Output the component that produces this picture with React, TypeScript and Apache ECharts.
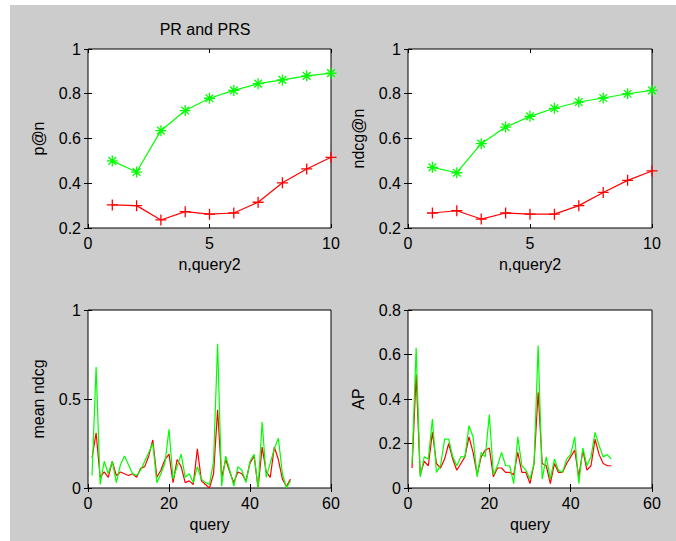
import React, { useEffect, useRef } from "react";
import * as echarts from "echarts";

const nValues = [1, 2, 3, 4, 5, 6, 7, 8, 9, 10];
const pAtNGreen = [0.5, 0.45, 0.635, 0.725, 0.78, 0.815, 0.845, 0.862, 0.88, 0.892];
const pAtNRed = [0.303, 0.3, 0.236, 0.273, 0.262, 0.267, 0.315, 0.402, 0.464, 0.516];
const ndcgAtNGreen = [0.471, 0.447, 0.577, 0.651, 0.699, 0.735, 0.763, 0.781, 0.8, 0.815];
const ndcgAtNRed = [0.267, 0.277, 0.24, 0.267, 0.262, 0.262, 0.3, 0.359, 0.413, 0.455];

const queries = [
  1, 2, 3, 4, 5, 6, 7, 8, 9, 10, 11, 12, 13, 14, 15, 16, 17, 18, 19, 20, 21, 22, 23, 24, 25,
  26, 27, 28, 29, 30, 31, 32, 33, 34, 35, 36, 37, 38, 39, 40, 41, 42, 43, 44, 45, 46, 47, 48, 49, 50,
];
const meanNdcgGreen = [
  0.07, 0.68, 0.02, 0.15, 0.08, 0.15, 0.03, 0.13, 0.18, 0.13, 0.08, 0.07, 0.1, 0.15, 0.2, 0.25, 0.03,
  0.08, 0.14, 0.33, 0.05, 0.12, 0.19, 0.06, 0.08, 0.03, 0.12, 0.05, 0.03, 0.02, 0.15, 0.81, 0.01, 0.18,
  0.1, 0.01, 0.12, 0.1, 0.03, 0.15, 0.19, 0.0, 0.37, 0.06, 0.14, 0.22, 0.28, 0.08, 0.0, 0.04,
];
const meanNdcgRed = [
  0.17, 0.31, 0.06, 0.09, 0.06, 0.15, 0.07, 0.09, 0.08, 0.07, 0.08, 0.06, 0.11, 0.12, 0.18, 0.27, 0.06,
  0.1, 0.16, 0.19, 0.03, 0.16, 0.12, 0.03, 0.04, 0.02, 0.22, 0.04, 0.02, 0.0, 0.08, 0.44, 0.06, 0.16,
  0.09, 0.03, 0.09, 0.08, 0.04, 0.14, 0.18, 0.0, 0.23, 0.09, 0.06, 0.23, 0.16, 0.05, 0.01, 0.05,
];
const apGreen = [
  0.11, 0.63, 0.05, 0.14, 0.13, 0.31, 0.07, 0.1, 0.22, 0.22, 0.14, 0.1, 0.14, 0.14, 0.28, 0.23, 0.05,
  0.16, 0.14, 0.33, 0.06, 0.1, 0.16, 0.1, 0.1, 0.02, 0.23, 0.1, 0.08, 0.04, 0.11, 0.64, 0.04, 0.14,
  0.04, 0.13, 0.08, 0.07, 0.13, 0.15, 0.23, 0.02, 0.18, 0.1, 0.14, 0.25, 0.19, 0.14, 0.15, 0.13,
];
const apRed = [
  0.09, 0.51, 0.06, 0.12, 0.1, 0.25, 0.11, 0.09, 0.13, 0.2, 0.13, 0.08, 0.11, 0.14, 0.23, 0.16, 0.06,
  0.14, 0.17, 0.18, 0.05, 0.09, 0.09, 0.07, 0.07, 0.06, 0.16, 0.07, 0.07, 0.02, 0.11, 0.43, 0.11, 0.1,
  0.02, 0.11, 0.07, 0.07, 0.11, 0.14, 0.17, 0.05, 0.17, 0.08, 0.1, 0.22, 0.15, 0.11, 0.1, 0.1,
];

const topXTicks = { min: 0, max: 10, interval: 5 };
const bottomXTicks = { min: 0, max: 60, interval: 20 };
const topYTicks = { min: 0.2, max: 1, interval: 0.2 };
const ndcgYTicks = { min: 0, max: 1, interval: 0.5 };
const apYTicks = { min: 0, max: 0.8, interval: 0.2 };

const FONT = '"Liberation Sans", Arial, Helvetica, sans-serif';
const GREEN = "#00ff00";
const RED = "#ff0000";
const PLUS = "path://M0,5L10,5M5,0L5,10";
const STAR = "path://M0,5L10,5M5,0L5,10M1.5,1.5L8.5,8.5M8.5,1.5L1.5,8.5";

function pairs(xs: number[], ys: number[]) {
  return xs.map((x, i) => [x, ys[i]]);
}

function xAxes(gridIndex: number, ticks: any, name: string) {
  return [
    {
      type: "value",
      gridIndex,
      position: "bottom",
      ...ticks,
      name,
      nameLocation: "middle",
      nameGap: 28,
      nameTextStyle: { fontFamily: FONT, fontSize: 16, color: "#000" },
      axisLine: { show: false },
      axisTick: { show: true, inside: true, length: 4, lineStyle: { color: "#000" } },
      axisLabel: { fontFamily: FONT, fontSize: 16, color: "#000", margin: 7 },
      splitLine: { show: false },
    },
    {
      type: "value",
      gridIndex,
      position: "top",
      ...ticks,
      axisLine: { show: false },
      axisTick: { show: true, inside: true, length: 4, lineStyle: { color: "#000" } },
      axisLabel: { show: false },
      splitLine: { show: false },
    },
  ];
}

function yAxes(gridIndex: number, ticks: any, name: string) {
  return [
    {
      type: "value",
      gridIndex,
      position: "left",
      ...ticks,
      name,
      nameLocation: "middle",
      nameGap: 42,
      nameTextStyle: { fontFamily: FONT, fontSize: 16, color: "#000" },
      axisLine: { show: false },
      axisTick: { show: true, inside: true, length: 4, lineStyle: { color: "#000" } },
      axisLabel: { fontFamily: FONT, fontSize: 16, color: "#000", margin: 7 },
      splitLine: { show: false },
    },
    {
      type: "value",
      gridIndex,
      position: "right",
      ...ticks,
      axisLine: { show: false },
      axisTick: { show: true, inside: true, length: 4, lineStyle: { color: "#000" } },
      axisLabel: { show: false },
      splitLine: { show: false },
    },
  ];
}

function markedSeries(axisIdx: number, ys: number[], color: string, symbol: string) {
  return {
    type: "line",
    xAxisIndex: axisIdx,
    yAxisIndex: axisIdx,
    data: pairs(nValues, ys),
    symbol,
    symbolSize: 11,
    showSymbol: true,
    lineStyle: { color, width: 1.2 },
    itemStyle: { color, borderColor: color, borderWidth: 1.3 },
    emphasis: { disabled: true },
  };
}

function plainSeries(axisIdx: number, ys: number[], color: string) {
  return {
    type: "line",
    xAxisIndex: axisIdx,
    yAxisIndex: axisIdx,
    data: pairs(queries, ys),
    showSymbol: false,
    symbol: "none",
    lineStyle: { color, width: 1.2 },
    itemStyle: { color },
    emphasis: { disabled: true },
  };
}

export default function App() {
  const ref = useRef<HTMLDivElement>(null);
  useEffect(() => {
    if (!ref.current) return;
    const chart = echarts.init(ref.current, undefined, { renderer: "svg" });
    const gridBase = {
      show: true,
      backgroundColor: "#ffffff",
      borderColor: "#000000",
      borderWidth: 1,
      containLabel: false,
    };
    chart.setOption({
      animation: false,
      backgroundColor: "#cccccc",
      textStyle: { fontFamily: FONT },
      graphic: [
        { type: "rect", shape: { x: 0, y: 0, width: 676, height: 5 }, style: { fill: "#ffffff" }, silent: true },
        { type: "rect", shape: { x: 0, y: 0, width: 10, height: 541 }, style: { fill: "#ffffff" }, silent: true },
        {
          type: "text",
          x: 205,
          y: 29,
          style: {
            text: "PR and PRS",
            font: `16px ${FONT}`,
            fill: "#000",
            textAlign: "center",
            textVerticalAlign: "middle",
          },
          silent: true,
        },
      ],
      grid: [
        { ...gridBase, left: 88, top: 49, width: 243, height: 179 },
        { ...gridBase, left: 408, top: 49, width: 244, height: 179 },
        { ...gridBase, left: 88, top: 310, width: 243, height: 178 },
        { ...gridBase, left: 408, top: 310, width: 244, height: 178 },
      ],
      xAxis: [
        ...xAxes(0, topXTicks, "n,query2"),
        ...xAxes(1, topXTicks, "n,query2"),
        ...xAxes(2, bottomXTicks, "query"),
        ...xAxes(3, bottomXTicks, "query"),
      ],
      yAxis: [
        ...yAxes(0, topYTicks, "p@n"),
        ...yAxes(1, topYTicks, "ndcg@n"),
        ...yAxes(2, ndcgYTicks, "mean ndcg"),
        ...yAxes(3, apYTicks, "AP"),
      ],
      series: [
        markedSeries(0, pAtNRed, RED, PLUS),
        markedSeries(0, pAtNGreen, GREEN, STAR),
        markedSeries(2, ndcgAtNRed, RED, PLUS),
        markedSeries(2, ndcgAtNGreen, GREEN, STAR),
        plainSeries(4, meanNdcgRed, RED),
        plainSeries(4, meanNdcgGreen, GREEN),
        plainSeries(6, apRed, RED),
        plainSeries(6, apGreen, GREEN),
      ],
    });
    return () => chart.dispose();
  }, []);
  return (
    <div
      ref={ref}
      style={{ position: "absolute", left: 0, top: 0, width: 676, height: 541 }}
    />
  );
}
